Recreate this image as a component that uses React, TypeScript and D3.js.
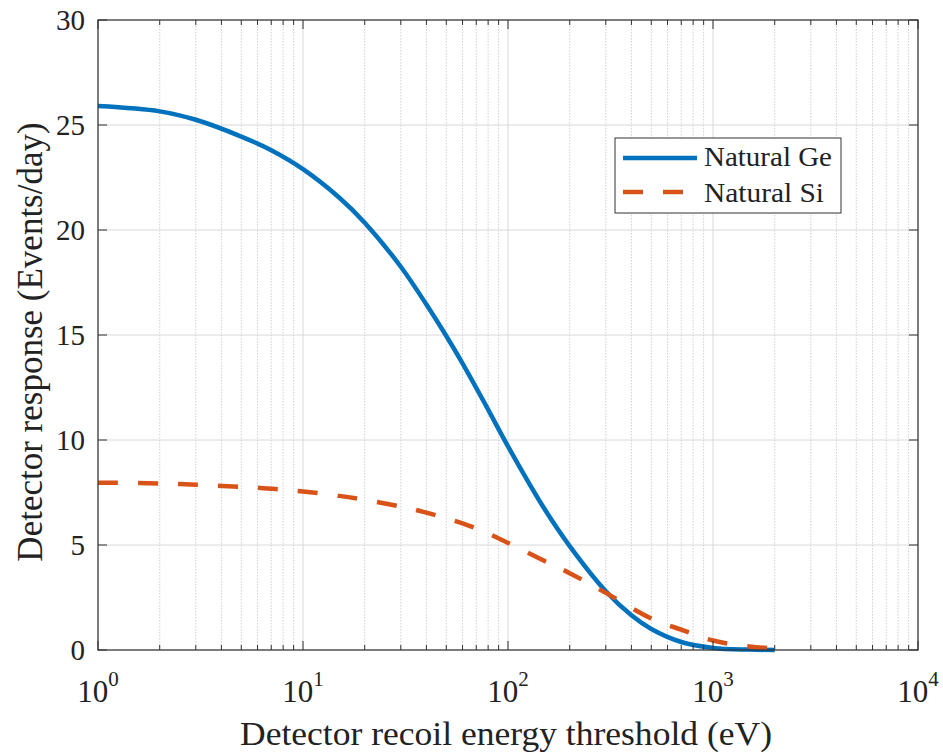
import React from "react";
import * as d3 from "d3";

const geX = [1, 2, 3, 5, 7, 10, 15, 20, 30, 40, 50, 60, 80, 100, 150, 200, 300, 400, 500, 700, 1000, 1500, 2000];
const geY = [25.9, 25.65, 25.25, 24.45, 23.8, 22.9, 21.55, 20.35, 18.25, 16.45, 14.95, 13.65, 11.45, 9.7, 6.75, 4.95, 2.8, 1.65, 1.0, 0.38, 0.1, 0.02, 0];
const siX = [1, 2, 3, 5, 7, 10, 15, 20, 30, 40, 60, 80, 100, 150, 200, 300, 500, 700, 1000, 1500, 2000];
const siY = [7.97, 7.93, 7.87, 7.77, 7.68, 7.55, 7.34, 7.15, 6.83, 6.54, 6.03, 5.55, 5.1, 4.25, 3.66, 2.72, 1.5, 0.97, 0.45, 0.17, 0.08];
const yTicks = [0, 5, 10, 15, 20, 25, 30];
const xDecades = [0, 1, 2, 3, 4];
const seriesNames = ["Natural Ge", "Natural Si"];

const W = 943, H = 752;
const L = 98, R = 918, T = 20, B = 650;

export default function App() {
  const x = d3.scaleLog().domain([1, 10000]).range([L, R]);
  const y = d3.scaleLinear().domain([0, 30]).range([B, T]);
  const line = d3.line<[number, number]>().x(d => x(d[0])).y(d => y(Math.max(0, d[1]))).curve(d3.curveCatmullRom.alpha(0.5));
  const ge = line(geX.map((v, i) => [v, geY[i]] as [number, number]))!;
  const si = line(siX.map((v, i) => [v, siY[i]] as [number, number]))!;
  const minor: number[] = [];
  for (let d = 0; d < 4; d++) for (let k = 2; k <= 9; k++) minor.push(k * Math.pow(10, d));
  const font = "'Liberation Serif', 'Times New Roman', serif";
  return (
    <svg width={W} height={H} style={{ position: "absolute", left: 0, top: 0, background: "#fff" }} fontFamily={font}>
      <rect x={0} y={0} width={W} height={H} fill="#fff" />
      {/* grid */}
      {minor.map(v => (
        <line key={"mg" + v} x1={x(v)} x2={x(v)} y1={T} y2={B} stroke="#c4c4c4" strokeWidth={0.8} strokeDasharray="1.5,1.5" />
      ))}
      {xDecades.map(d => (
        <line key={"xg" + d} x1={x(Math.pow(10, d))} x2={x(Math.pow(10, d))} y1={T} y2={B} stroke="#d8d8d8" strokeWidth={1} />
      ))}
      {yTicks.map(t => (
        <line key={"yg" + t} x1={L} x2={R} y1={y(t)} y2={y(t)} stroke="#d8d8d8" strokeWidth={1} />
      ))}
      {/* curves */}
      <path d={ge} fill="none" stroke="#0072BD" strokeWidth={4.5} />
      <path d={si} fill="none" stroke="#D95319" strokeWidth={4.5} strokeDasharray="20,20" />
      {/* ticks */}
      {minor.map(v => (
        <g key={"mt" + v}>
          <line x1={x(v)} x2={x(v)} y1={B} y2={B - 5} stroke="#333" strokeWidth={1} />
          <line x1={x(v)} x2={x(v)} y1={T} y2={T + 5} stroke="#333" strokeWidth={1} />
        </g>
      ))}
      {xDecades.map(d => (
        <g key={"xt" + d}>
          <line x1={x(Math.pow(10, d))} x2={x(Math.pow(10, d))} y1={B} y2={B - 9} stroke="#333" strokeWidth={1} />
          <line x1={x(Math.pow(10, d))} x2={x(Math.pow(10, d))} y1={T} y2={T + 9} stroke="#333" strokeWidth={1} />
          <text x={x(Math.pow(10, d))} y={702} fontSize={31} textAnchor="middle" fill="#222">
            10<tspan dy={-16} fontSize={21}>{d}</tspan>
          </text>
        </g>
      ))}
      {yTicks.map(t => (
        <g key={"yt" + t}>
          <line x1={L} x2={L + 9} y1={y(t)} y2={y(t)} stroke="#333" strokeWidth={1} />
          <line x1={R} x2={R - 9} y1={y(t)} y2={y(t)} stroke="#333" strokeWidth={1} />
          <text x={L - 13} y={y(t) + 10} fontSize={29} textAnchor="end" fill="#222">{t}</text>
        </g>
      ))}
      <rect x={L} y={T} width={R - L} height={B - T} fill="none" stroke="#333" strokeWidth={1.2} />
      {/* labels */}
      <text x={(L + R) / 2 - 2} y={745} fontSize={34} textAnchor="middle" fill="#222" textLength={532} lengthAdjust="spacingAndGlyphs">Detector recoil energy threshold (eV)</text>
      <text transform={`translate(42,${342}) rotate(-90)`} fontSize={35} textAnchor="middle" fill="#222">Detector response (Events/day)</text>
      {/* legend */}
      <rect x={615} y={138} width={226} height={75} fill="#fff" stroke="#333" strokeWidth={1} />
      <line x1={623} x2={697} y1={158} y2={158} stroke="#0072BD" strokeWidth={4.5} />
      <line x1={623} x2={697} y1={192} y2={192} stroke="#D95319" strokeWidth={4.5} strokeDasharray="20,20" />
      <text x={704} y={166} fontSize={27} fill="#222" textLength={128} lengthAdjust="spacingAndGlyphs">{seriesNames[0]}</text>
      <text x={704} y={202} fontSize={27} fill="#222" textLength={120} lengthAdjust="spacingAndGlyphs">{seriesNames[1]}</text>
    </svg>
  );
}
